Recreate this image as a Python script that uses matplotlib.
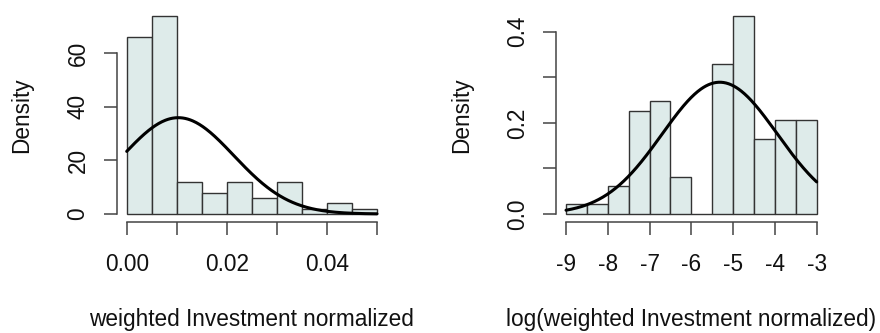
import numpy as np
import matplotlib
matplotlib.use("Agg")
import matplotlib.pyplot as plt

plt.rcParams['font.family'] = ['Liberation Sans', 'DejaVu Sans']

# ---- data ----
left_edges = [0.0, 0.005, 0.01, 0.015, 0.02, 0.025, 0.03, 0.035, 0.04, 0.045, 0.05]
left_density = [66, 74, 12, 8, 12, 6, 12, 2, 4, 2]
left_mean, left_sd = 0.0103, 0.0111
left_xticks = [0.00, 0.01, 0.02, 0.03, 0.04, 0.05]
left_xticklabels = ["0.00", "", "0.02", "", "0.04", ""]
left_yticks = [0, 20, 40, 60]
left_yticklabels = ["0", "20", "40", "60"]
left_xlabel = "weighted Investment normalized"

right_edges = [-9, -8.5, -8, -7.5, -7, -6.5, -6, -5.5, -5, -4.5, -4, -3.5, -3]
right_density = [0.021, 0.021, 0.062, 0.227, 0.248, 0.082, 0.0, 0.330, 0.435, 0.165, 0.206, 0.206]
right_mean, right_sd = -5.32, 1.38
right_xticks = [-9, -8, -7, -6, -5, -4, -3]
right_xticklabels = ["-9", "-8", "-7", "-6", "-5", "-4", "-3"]
right_yticks = [0.0, 0.1, 0.2, 0.3, 0.4]
right_yticklabels = ["0.0", "", "0.2", "", "0.4"]
right_xlabel = "log(weighted Investment normalized)"

ylabel = "Density"
FILL = "#DEEBEA"
EDGE = "#333333"
AX = "#444444"
FS = 16.3

W, H = 880, 333
fig = plt.figure(figsize=(W / 100, H / 100), dpi=100)


def panel(rect_px, edges, dens, mean, sd, xt, xtl, yt, ytl, xlab):
    x0, x1, ytop, ybot = rect_px
    ax = fig.add_axes([x0 / W, (H - ybot) / H, (x1 - x0) / W, (ybot - ytop) / H])
    edges = np.asarray(edges, float)
    widths = np.diff(edges)
    ax.bar(edges[:-1], dens, width=widths, align='edge', color=FILL,
           edgecolor=EDGE, linewidth=1.0, zorder=2)
    xs = np.linspace(edges[0], edges[-1], 300)
    ys = np.exp(-(xs - mean) ** 2 / (2 * sd ** 2)) / (sd * np.sqrt(2 * np.pi))
    ax.plot(xs, ys, color="black", lw=2.2, zorder=3, solid_capstyle='round')
    xr = edges[-1] - edges[0]
    ax.set_xlim(edges[0] - 0.04 * xr, edges[-1] + 0.04 * xr)
    ym = max(dens)
    ax.set_ylim(-0.04 * ym, 1.04 * ym)
    for s in ['top', 'right']:
        ax.spines[s].set_visible(False)
    ax.spines['bottom'].set_bounds(xt[0], xt[-1])
    ax.spines['left'].set_bounds(yt[0], yt[-1])
    for s in ['bottom', 'left']:
        ax.spines[s].set_color(AX)
        ax.spines[s].set_linewidth(1.1)
    ax.set_xticks(xt)
    ax.set_xticklabels(xtl)
    ax.set_yticks(yt)
    ax.set_yticklabels(ytl, rotation=90, va='center')
    ax.tick_params(axis='both', length=9.5, width=1.1, color=AX, labelsize=FS,
                   labelcolor='#111111')
    ax.tick_params(axis='x', pad=13)
    ax.tick_params(axis='y', pad=10)
    ax.patch.set_visible(False)
    ax.text(0.5, -0.458, xlab, transform=ax.transAxes, ha='center', va='center',
            fontsize=FS, color='#111111')
    ax.text(-0.35, 0.5, ylabel, transform=ax.transAxes, ha='center', va='center',
            rotation=90, fontsize=FS, color='#111111')
    return ax


panel((116.7, 387.0, 7.8, 221.9), left_edges, left_density, left_mean, left_sd,
      left_xticks, left_xticklabels, left_yticks, left_yticklabels, left_xlabel)
panel((556.0, 826.7, 7.8, 221.9), right_edges, right_density, right_mean, right_sd,
      right_xticks, right_xticklabels, right_yticks, right_yticklabels, right_xlabel)

fig.savefig("out.png", dpi=100)
